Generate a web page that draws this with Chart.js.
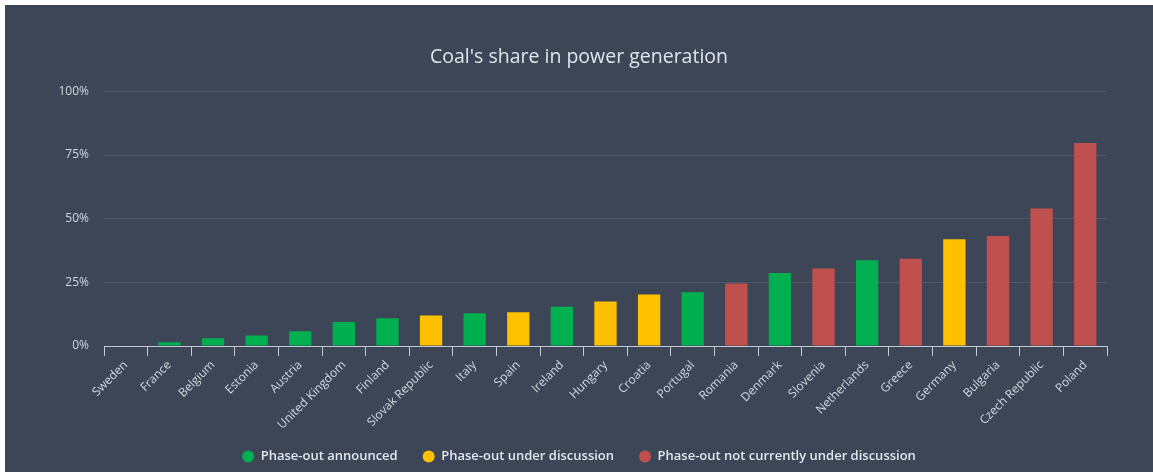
<!DOCTYPE html>
<html>
<head>
<meta charset="utf-8">
<title>Coal's share in power generation</title>
<script src="https://cdn.jsdelivr.net/npm/chart.js@4.4.1/dist/chart.umd.min.js"></script>
<style>
  html, body { margin: 0; padding: 0; background: #ffffff; }
  #wrap {
    position: absolute;
    left: 5px;
    top: 5px;
    width: 1148px;
    height: 467px;
    background: #3d4657;
  }
</style>
</head>
<body>
<div id="wrap"><canvas id="coalChart"></canvas></div>
<script>
// Coal's share of each country's power generation (%)
const countries = [
    'Sweden', 'France', 'Belgium', 'Estonia', 'Austria', 'United Kingdom',
    'Finland', 'Slovak Republic', 'Italy', 'Spain', 'Ireland', 'Hungary',
    'Croatia', 'Portugal', 'Romania', 'Denmark', 'Slovenia', 'Netherlands',
    'Greece', 'Germany', 'Bulgaria', 'Czech Republic', 'Poland'
];
const coalShare = [
    0, 1.5, 3.0, 4.1, 5.8, 9.4,
    10.9, 12.0, 12.9, 13.3, 15.4, 17.5,
    20.2, 21.1, 24.5, 28.7, 30.4, 33.7,
    34.3, 41.9, 43.2, 54.0, 79.7
];
// 0 = announced, 1 = under discussion, 2 = not under discussion
const phaseStatus = [
    0, 0, 0, 0, 0, 0,
    0, 1, 0, 1, 0, 1,
    1, 0, 2, 0, 2, 0,
    2, 1, 2, 2, 2
];
const statusNames = [
    'Phase-out announced',
    'Phase-out under discussion',
    'Phase-out not currently under discussion'
];
const statusColors = ['#00b050', '#ffc000', '#c0504d'];
const yTicks = [0, 25, 50, 75, 100];

const FONT = "'Open Sans', 'Noto Sans', sans-serif";
const AXIS_COLOR = '#c3c9d2';
const LABEL_COLOR = '#d3d7dd';

// one dataset per status so the legend lists the three groups
const datasets = statusNames.map((name, s) => ({
    label: name,
    data: coalShare.map((v, i) => phaseStatus[i] === s ? v : null),
    backgroundColor: statusColors[s],
    borderWidth: 0,
    grouped: false,
    categoryPercentage: 0.8,
    barPercentage: 0.64
}));

// pull the legend row up a little, closer to the country names
const legendNudge = {
    id: 'legendNudge',
    afterLayout(chart) {
        chart.legend.top -= 6;
        chart.legend.bottom -= 6;
    }
};

new Chart(document.getElementById('coalChart'), {
    type: 'bar',
    data: { labels: countries, datasets: datasets },
    plugins: [legendNudge],
    options: {
        responsive: true,
        maintainAspectRatio: false,
        animation: false,
        layout: { padding: 0 },
        plugins: {
            title: {
                display: true,
                text: "Coal's share in power generation",
                color: '#e1e5ea',
                font: { family: FONT, size: 19.5, weight: 'normal' },
                padding: { top: 41, bottom: 22 }
            },
            legend: {
                position: 'bottom',
                align: 'center',
                maxHeight: 41,
                labels: {
                    usePointStyle: true,
                    pointStyle: 'circle',
                    pointStyleWidth: 12,
                    boxHeight: 8.5,
                    padding: 25,
                    color: '#e3e6ea',
                    font: { family: FONT, size: 13, weight: '600' }
                }
            },
            tooltip: { enabled: false }
        },
        scales: {
            x: {
                grid: {
                    display: true,
                    offset: true,
                    drawOnChartArea: false,
                    drawTicks: true,
                    tickLength: 10,
                    color: AXIS_COLOR
                },
                border: { display: true, color: AXIS_COLOR, width: 1 },
                ticks: {
                    color: LABEL_COLOR,
                    font: { family: FONT, size: 12 },
                    maxRotation: 45,
                    minRotation: 45,
                    autoSkip: false,
                    padding: 2
                },
                afterFit: (scale) => { scale.height = 85; }
            },
            y: {
                min: 0,
                max: 100,
                grid: { color: 'rgba(255, 255, 255, 0.1)', drawTicks: false },
                border: { display: false },
                ticks: {
                    color: LABEL_COLOR,
                    font: { family: FONT, size: 12 },
                    padding: 15,
                    callback: (value) => value + '%'
                },
                afterBuildTicks: (scale) => {
                    scale.ticks = yTicks.map(v => ({ value: v }));
                },
                afterFit: (scale) => { scale.width = 99; }
            },
            // empty right-hand axis that keeps a margin beside the plot
            yMargin: {
                type: 'linear',
                position: 'right',
                grid: { display: false },
                border: { display: false },
                ticks: { display: false },
                afterFit: (scale) => { scale.width = 46; }
            }
        }
    }
});
</script>
</body>
</html>
